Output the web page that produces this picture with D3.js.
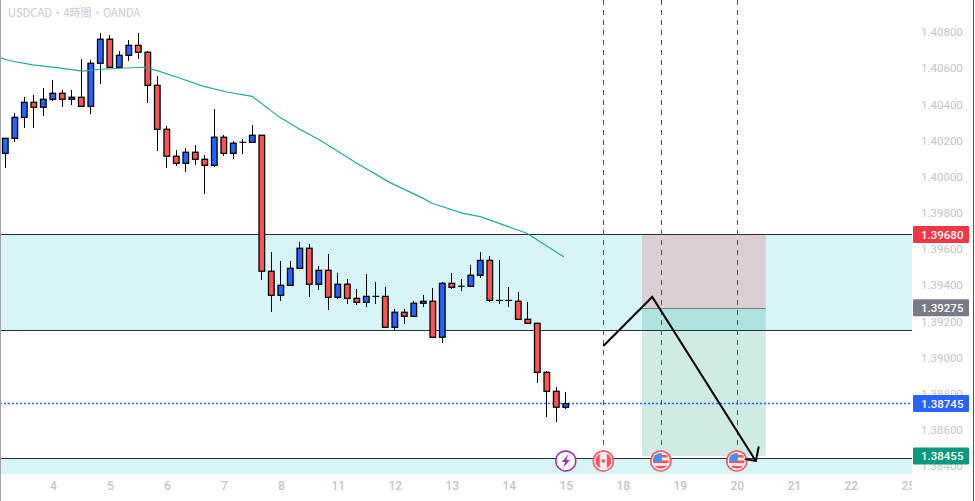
<!DOCTYPE html>
<html>
<head>
<meta charset="utf-8">
<style>
	html, body { margin: 0; padding: 0; background: #fff; overflow: hidden; }
	svg { display: block; }
	text { font-family: Roboto, "Noto Sans CJK JP", sans-serif; }
</style>
</head>
<body>
<svg id="chart" width="975" height="501"></svg>
<script src="https://cdn.jsdelivr.net/npm/d3@7"></script>
<script>
// Velas USDCAD 4H
const opens = [1.40129,1.40212,1.40328,1.40411,1.40384,1.40428,1.40461,1.40428,1.40439,1.40389,1.40627,1.4076,1.40605,1.40671,1.40726,1.40688,1.40505,1.40262,1.40113,1.40074,1.40135,1.40096,1.40063,1.40218,1.40129,1.4019,1.4019,1.40229,1.39477,1.39344,1.39399,1.39493,1.39604,1.39405,1.39482,1.39333,1.39405,1.39327,1.39305,1.39338,1.39338,1.39167,1.3925,1.39228,1.393,1.39311,1.39112,1.3941,1.39394,1.39394,1.39455,1.39537,1.39316,1.39316,1.39311,1.39211,1.39189,1.38918,1.38813,1.38725];
const highs = [1.40212,1.4035,1.40439,1.40452,1.40489,1.40535,1.40479,1.40479,1.40649,1.40645,1.40794,1.40783,1.40695,1.40756,1.40794,1.40695,1.40555,1.40279,1.40147,1.40157,1.40175,1.4012,1.40373,1.40229,1.40197,1.40207,1.40284,1.40229,1.39583,1.39534,1.39534,1.39639,1.39626,1.39506,1.39571,1.39466,1.39432,1.39377,1.3946,1.39416,1.39388,1.39267,1.39267,1.39311,1.39344,1.39383,1.39416,1.39466,1.39432,1.3951,1.39583,1.39561,1.39537,1.39388,1.39361,1.39305,1.39189,1.38925,1.38835,1.38808];
const lows = [1.4005,1.40193,1.40271,1.40271,1.40337,1.4042,1.40387,1.40396,1.40389,1.40348,1.40514,1.40605,1.40605,1.4064,1.40651,1.40409,1.40144,1.4005,1.40061,1.40027,1.40065,1.39906,1.40055,1.40116,1.40099,1.40125,1.4019,1.39429,1.39253,1.39314,1.39399,1.39493,1.39336,1.39375,1.39264,1.39325,1.39297,1.39292,1.39281,1.39297,1.39167,1.39152,1.39187,1.39228,1.39281,1.39112,1.39082,1.3938,1.39369,1.39394,1.39441,1.39309,1.39297,1.39281,1.39211,1.39189,1.38861,1.38673,1.38645,1.38714];
const closes = [1.40212,1.40328,1.40411,1.40384,1.40428,1.40461,1.40428,1.40439,1.40389,1.40627,1.4076,1.40605,1.40671,1.40726,1.40688,1.40505,1.40262,1.40113,1.40074,1.40135,1.40096,1.40063,1.40218,1.40129,1.40185,1.40185,1.40229,1.39477,1.39344,1.39399,1.39493,1.39604,1.39405,1.39482,1.39333,1.39405,1.39327,1.39305,1.39338,1.39338,1.39167,1.3925,1.39228,1.393,1.39311,1.39112,1.3941,1.39388,1.39394,1.39455,1.39537,1.39316,1.39316,1.39316,1.39211,1.39189,1.38918,1.38813,1.38725,1.38745];

// Média móvel: posição em velas e preço
const emaBars = [-0.56,0.5,2.9,5.4,8.1,10,12.8,14.5,16,18.4,20.8,23.3,26,28.9,31,33.1,37,40.5,44,44.9,48.2,50,54.9,58.8];
const emaPrices = [1.40658,1.40641,1.40618,1.40603,1.40584,1.40594,1.40601,1.40605,1.40586,1.40544,1.40501,1.40468,1.40444,1.40328,1.40262,1.40203,1.40074,1.39967,1.3988,1.39853,1.39797,1.39779,1.39687,1.39556];

// Eixos
const dayLabels = ["4","5","6","7","8","11","12","13","14","15","18","19","20","21","22","25"];
const dayBars = [5,11,17,23,29,35,41,47,53,59,65,71,77,83,89,95];
const priceTicks = [1.408,1.406,1.404,1.402,1.4,1.398,1.396,1.394,1.392,1.39,1.388,1.386,1.384];

// Zonas e linhas
const zoneTop = [1.3968,1.39150];
const zoneBottom = [1.38441];
const positionEntry = 1.39275, positionStop = 1.3968, positionTarget = 1.38455;
const positionBars = [67.02,80.06];
const eventLineBars = [62.95,69.05,77.05];
const arrowBars = [62.95,68.1,79];
const arrowPrices = [1.39064,1.39335,1.38428];
const iconBars = [59,62.95,69,77];
const iconKinds = ["bolt","ca","us","us"];
const priceLabels = [
	{ value: 1.3968, color: "#f23645" },
	{ value: 1.39275, color: "#787b86" },
	{ value: 1.38745, color: "#2962ff" },
	{ value: 1.38455, color: "#089981" },
];

const width = 975, height = 501, plotRight = 912, plotBottom = 474;
const svg = d3.select("#chart");

const x = d3.scaleLinear().domain([0, 59]).range([5.3, 565.8]);
const y = d3.scaleLinear().domain([1.408, 1.384]).range([32, 466]);

svg.append("clipPath").attr("id", "plot")
	.append("rect").attr("width", plotRight).attr("height", plotBottom);

const plot = svg.append("g").attr("clip-path", "url(#plot)");

// Zonas azuis
plot.append("rect")
	.attr("x", 0).attr("width", plotRight)
	.attr("y", y(zoneTop[0])).attr("height", y(zoneTop[1]) - y(zoneTop[0]))
	.attr("fill", "#d7f5f7");
plot.append("rect")
	.attr("x", 0).attr("width", plotRight)
	.attr("y", y(zoneBottom[0])).attr("height", plotBottom - y(zoneBottom[0]))
	.attr("fill", "#d7f5f7");

// Caixa da posição
const boxX = x(positionBars[0]), boxW = x(positionBars[1]) - x(positionBars[0]);
const entryY = Math.round(y(positionEntry)) + 0.5;
plot.append("rect")
	.attr("x", boxX).attr("width", boxW)
	.attr("y", y(positionStop)).attr("height", entryY - y(positionStop))
	.attr("fill", "rgba(242,54,69,0.2)");
plot.append("rect")
	.attr("x", boxX).attr("width", boxW)
	.attr("y", entryY).attr("height", y(positionTarget) - entryY)
	.attr("fill", "rgba(8,153,129,0.2)");
plot.append("line")
	.attr("x1", boxX).attr("x2", boxX + boxW)
	.attr("y1", entryY).attr("y2", entryY)
	.attr("stroke", "#787b86").attr("stroke-width", 1);

// Linhas horizontais
plot.selectAll("line.level")
	.data([...zoneTop, ...zoneBottom])
	.join("line")
	.attr("class", "level")
	.attr("x1", 0).attr("x2", plotRight)
	.attr("y1", d => Math.floor(y(d)) + 0.5).attr("y2", d => Math.floor(y(d)) + 0.5)
	.attr("stroke", "#2a2e39").attr("stroke-width", 1);

// Linha do preço atual
plot.append("line")
	.attr("x1", 0).attr("x2", plotRight)
	.attr("y1", Math.floor(y(closes[59])) + 0.5).attr("y2", Math.floor(y(closes[59])) + 0.5)
	.attr("stroke", "#2962ff").attr("stroke-width", 1.3)
	.attr("stroke-dasharray", "2 2");

// Linhas verticais tracejadas
plot.selectAll("line.event")
	.data(eventLineBars)
	.join("line")
	.attr("class", "event")
	.attr("x1", d => x(d)).attr("x2", d => x(d))
	.attr("y1", 0).attr("y2", 452)
	.attr("stroke", "#50535e").attr("stroke-width", 1)
	.attr("stroke-dasharray", "5 5")
	.attr("shape-rendering", "crispEdges");

// Velas
const candles = plot.append("g");
const bodyWidth = 5.6;
d3.range(opens.length).forEach(i => {
	const up = closes[i] >= opens[i];
	const doji = Math.abs(y(closes[i]) - y(opens[i])) < 1.2;
	const top = y(Math.max(opens[i], closes[i]));
	const bottom = y(Math.min(opens[i], closes[i]));
	candles.append("line")
		.attr("x1", x(i)).attr("x2", x(i))
		.attr("y1", y(highs[i])).attr("y2", y(lows[i]))
		.attr("stroke", "#000").attr("stroke-width", 1)
		.attr("shape-rendering", "crispEdges");
	if (doji) {
		candles.append("line")
			.attr("x1", x(i) - 3.4).attr("x2", x(i) + 3.4)
			.attr("y1", top).attr("y2", top)
			.attr("stroke", "#000").attr("stroke-width", 1.2);
	} else {
		candles.append("rect")
			.attr("x", x(i) - bodyWidth / 2).attr("width", bodyWidth)
			.attr("y", top).attr("height", bottom - top)
			.attr("fill", up ? "#2962ff" : "#ff5252")
			.attr("stroke", "#000").attr("stroke-width", 1.3);
	}
});

// Média móvel
const emaLine = d3.line().x(d => x(d[0])).y(d => y(d[1]));
plot.append("path")
	.attr("d", emaLine(d3.zip(emaBars, emaPrices)))
	.attr("fill", "none")
	.attr("stroke", "#26a69a").attr("stroke-width", 1.2);

// Ícones de eventos
const iconY = y(1.38428);
const iconG = plot.append("g");
iconBars.forEach((bar, i) => {
	const g = iconG.append("g").attr("transform", `translate(${x(bar)},${iconY})`);
	const id = `icon${i}`;
	if (iconKinds[i] === "bolt") {
		g.append("circle").attr("r", 10).attr("fill", "#fff").attr("stroke", "#9c27b0").attr("stroke-width", 1.4);
		g.append("path").attr("d", "M2.5,-6.5 L-4,1 L-0.5,1 L-2.5,6.5 L4,-1 L0.5,-1 Z").attr("fill", "#9c27b0");
		return;
	}
	g.append("circle").attr("r", 10.8).attr("fill", "#f4555f");
	g.append("circle").attr("r", 9.2).attr("fill", "#fff");
	g.append("clipPath").attr("id", id).append("circle").attr("r", 8);
	const flag = g.append("g").attr("clip-path", `url(#${id})`);
	if (iconKinds[i] === "ca") {
		flag.append("rect").attr("x", -8).attr("y", -8).attr("width", 16).attr("height", 16).attr("fill", "#fde7e9");
		flag.append("rect").attr("x", -8).attr("y", -8).attr("width", 4.4).attr("height", 16).attr("fill", "#f4555f");
		flag.append("rect").attr("x", 3.6).attr("y", -8).attr("width", 4.4).attr("height", 16).attr("fill", "#f4555f");
		flag.append("circle").attr("r", 1.8).attr("fill", "#f4555f");
	} else {
		flag.append("rect").attr("x", -8).attr("y", -8).attr("width", 16).attr("height", 16).attr("fill", "#fde7e9");
		[-8, -2.5, 3].forEach(sy => {
			flag.append("rect").attr("x", -8).attr("y", sy + 2).attr("width", 16).attr("height", 2.6).attr("fill", "#f4555f");
		});
		flag.append("rect").attr("x", -8).attr("y", -8).attr("width", 9).attr("height", 9).attr("fill", "#4a90e8");
	}
});

// Seta desenhada
const arrowPts = d3.zip(arrowBars, arrowPrices);
plot.append("path")
	.attr("d", emaLine(arrowPts))
	.attr("fill", "none")
	.attr("stroke", "#000").attr("stroke-width", 2);
const tip = arrowPts[2];
plot.append("path")
	.attr("d", d3.line()([[x(tip[0]) - 11, y(tip[1]) - 1.8], [x(tip[0]), y(tip[1])], [x(tip[0]) + 3, y(tip[1]) - 14.5]]))
	.attr("fill", "none")
	.attr("stroke", "#000").attr("stroke-width", 2);

// Eixo do tempo
const timeAxis = d3.axisBottom(x)
	.tickValues(dayBars)
	.tickFormat((d, i) => dayLabels[i])
	.tickSize(0);
const timeG = svg.append("g")
	.attr("transform", `translate(0,${plotBottom})`)
	.attr("clip-path", "url(#timeClip)")
	.call(timeAxis);
svg.append("clipPath").attr("id", "timeClip")
	.append("rect").attr("x", 0).attr("y", 0).attr("width", plotRight).attr("height", 30);
timeG.select(".domain").remove();
timeG.selectAll("text")
	.attr("y", 7)
	.attr("fill", "#c3c5cb")
	.style("font-family", "Roboto, sans-serif")
	.style("font-size", "12px")
	.style("font-weight", "500");

// Eixo de preços
const priceAxis = d3.axisRight(y)
	.tickValues(priceTicks)
	.tickFormat(d3.format(".5f"))
	.tickSize(0);
const priceG = svg.append("g")
	.attr("transform", `translate(${plotRight + 9},0)`)
	.call(priceAxis);
priceG.select(".domain").remove();
priceG.selectAll("text")
	.attr("x", 0)
	.attr("fill", "#c3c5cb")
	.style("font-family", "Roboto, sans-serif")
	.style("font-size", "11.5px");

// Etiquetas de preço
priceLabels.forEach(d => {
	const g = svg.append("g").attr("transform", `translate(913,${y(d.value)})`);
	g.append("rect")
		.attr("x", 0).attr("y", -8.5).attr("width", 56).attr("height", 17).attr("rx", 1)
		.attr("fill", d.color);
	g.append("text")
		.attr("x", 8).attr("dy", "0.35em")
		.attr("fill", "#fff")
		.style("font-size", "11.5px")
		.style("font-weight", "500")
		.text(d.value.toFixed(5));
});

// Título
svg.append("text")
	.attr("x", 8).attr("y", 17)
	.attr("fill", "#c9cbd0")
	.style("font-family", '"Noto Sans CJK JP", Roboto, sans-serif')
	.style("font-size", "11.2px")
	.text("USDCAD・4時間・OANDA");

// Bordas
svg.append("line").attr("x1", 0.5).attr("x2", 0.5).attr("y1", 0).attr("y2", height)
	.attr("stroke", "#a0a3a8").attr("stroke-width", 1);
svg.append("line").attr("x1", 973.5).attr("x2", 973.5).attr("y1", 0).attr("y2", height)
	.attr("stroke", "#50535e").attr("stroke-width", 1);
</script>
</body>
</html>
